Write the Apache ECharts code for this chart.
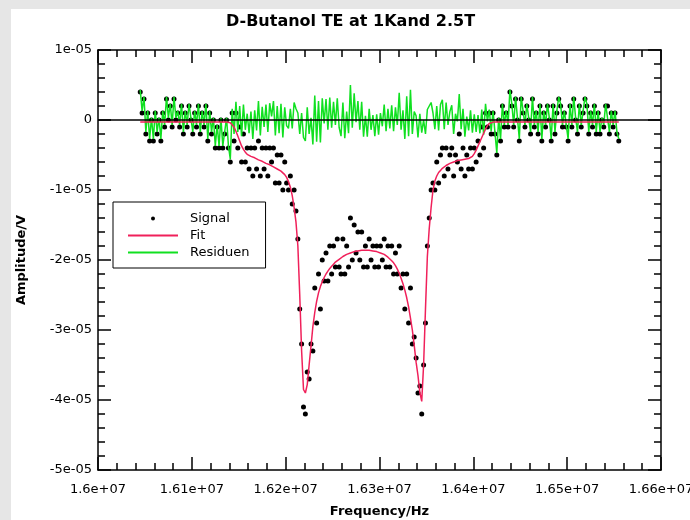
<!DOCTYPE html>
<html>
<head>
<meta charset="utf-8">
<title>D-Butanol TE at 1Kand 2.5T</title>
<script src="https://cdn.jsdelivr.net/npm/echarts@6/dist/echarts.min.js"></script>
<style>
  html, body { margin: 0; padding: 0; }
  #frame { position: relative; width: 690px; height: 520px; background: #e6e6e6; overflow: hidden; }
  #chart { position: absolute; left: 11px; top: 9px; width: 679px; height: 511px; background: #fff; }
</style>
</head>
<body>
<div id="frame"><div id="chart"></div></div>
<script>
// Frequency sweep: first sample and spacing (Hz)
const sweepStartHz = 16045000;
const sweepStepHz = 2000;

// Axis ranges and tick spacing
const freqRange = [16000000, 16600000];
const freqTickStep = 100000;
const ampRange = [-50, 10];      // in units of 1e-6 V
const ampTickStep = 10;

// Measured signal (1e-6 V), one value per sweep step
const signalMicroV = [
  4, 1, 3, -2, 1, -3, 0, -3, 1, -2,
  0, -3, 1, -1, 3, 0, 2, -1, 3, 0,
  1, -1, 2, -2, 1, -1, 2, 0, -2, 1,
  -1, 2, -2, 1, -1, 2, -3, 1, -2, 0,
  -4, -1, -4, 0, -4, -2, 0, -4, -6, 1,
  -3, 1, -4, -1, -6, -2, -6, -4, -7, -4,
  -8, -4, -7, -3, -8, -4, -7, -4, -8, -4,
  -6, -4, -9, -5, -9, -5, -10, -6, -9, -10,
  -8, -12, -10, -13, -17, -27, -32, -41, -42, -36,
  -37, -32, -33, -24, -29, -22, -27, -20, -23, -19,
  -23, -18, -22, -18, -21, -17, -21, -22, -17, -22,
  -18, -21, -14, -20, -15, -19, -16, -20, -16, -21,
  -18, -21, -17, -20, -18, -21, -18, -21, -18, -20,
  -17, -21, -18, -21, -18, -22, -19, -22, -18, -24,
  -22, -27, -22, -29, -24, -32, -31, -34, -39, -38,
  -42, -35, -29, -18, -14, -10, -9, -10, -6, -9,
  -5, -4, -8, -4, -7, -5, -4, -8, -5, -6,
  -2, -7, -4, -8, -5, -7, -4, -7, -4, -6,
  -3, -5, -1, -4, 1, -1, 1, -2, 1, -2,
  -5, 0, -3, 2, -1, 1, -1, 4, 2, -1,
  3, 0, -3, 3, 1, -1, 2, 0, -2, 3,
  -1, 1, -2, 2, -3, 1, -1, 2, 0, -3,
  2, -2, 1, 3, 2, -1, 1, -1, -3, 2,
  -1, 3, 0, -2, 2, -1, 1, 3, 2, -2,
  1, -1, 2, -2, 1, -2, 0, -1, 2, 2,
  -2, 1, -1, 1, -2, -3
];

// Fitted line shape (1e-6 V) at the same sweep steps
const fitMicroV = [
  -0.3, -0.3, -0.3, -0.3, -0.3, -0.3, -0.3, -0.3, -0.3, -0.3,
  -0.3, -0.3, -0.3, -0.3, -0.3, -0.3, -0.3, -0.3, -0.3, -0.3,
  -0.3, -0.3, -0.3, -0.3, -0.3, -0.3, -0.3, -0.3, -0.3, -0.3,
  -0.3, -0.3, -0.3, -0.3, -0.3, -0.3, -0.3, -0.3, -0.3, -0.3,
  -0.3, -0.3, -0.3, -0.3, -0.3, -0.3, -0.3, -0.3, -0.4, -0.6,
  -1.0, -1.6, -2.3, -3.0, -3.7, -4.2, -4.6, -4.9, -5.1, -5.2,
  -5.3, -5.4, -5.5, -5.7, -5.8, -5.9, -6.0, -6.2, -6.3, -6.4,
  -6.5, -6.7, -6.8, -7.0, -7.1, -7.3, -7.5, -7.8, -8.2, -8.8,
  -9.6, -10.8, -12.5, -14.6, -18.0, -25.0, -33.0, -38.5, -39.0, -37.8,
  -35.0, -32.3, -29.5, -27.5, -25.9, -24.7, -23.8, -23.1, -22.5, -22.0,
  -21.6, -21.2, -20.9, -20.6, -20.3, -20.1, -19.9, -19.7, -19.5, -19.4,
  -19.2, -19.1, -19.0, -18.9, -18.8, -18.7, -18.7, -18.6, -18.6, -18.6,
  -18.6, -18.6, -18.6, -18.6, -18.7, -18.7, -18.8, -18.9, -19.0, -19.1,
  -19.2, -19.4, -19.6, -19.8, -20.1, -20.4, -20.8, -21.3, -21.9, -22.6,
  -23.4, -24.3, -25.4, -26.7, -28.3, -30.0, -32.2, -34.6, -36.5, -38.9,
  -40.2, -35.0, -27.0, -19.5, -15.5, -12.5, -10.0, -8.7, -8.0, -7.5,
  -7.2, -6.9, -6.7, -6.5, -6.3, -6.2, -6.1, -6.0, -5.9, -5.8,
  -5.7, -5.7, -5.6, -5.6, -5.5, -5.5, -5.4, -5.2, -4.8, -4.3,
  -3.7, -3.1, -2.5, -1.9, -1.3, -0.8, -0.5, -0.4, -0.3, -0.3,
  -0.3, -0.3, -0.3, -0.3, -0.3, -0.3, -0.3, -0.3, -0.3, -0.3,
  -0.3, -0.3, -0.3, -0.3, -0.3, -0.3, -0.3, -0.3, -0.3, -0.3,
  -0.3, -0.3, -0.3, -0.3, -0.3, -0.3, -0.3, -0.3, -0.3, -0.3,
  -0.3, -0.3, -0.3, -0.3, -0.3, -0.3, -0.3, -0.3, -0.3, -0.3,
  -0.3, -0.3, -0.3, -0.3, -0.3, -0.3, -0.3, -0.3, -0.3, -0.3,
  -0.3, -0.3, -0.3, -0.3, -0.3, -0.3, -0.3, -0.3, -0.3, -0.3,
  -0.3, -0.3, -0.3, -0.3, -0.3, -0.3
];

// Residuals of the fit (1e-6 V)
const residualMicroV = [
  4.3, 1.3, 3.3, -1.7, 1.3, -2.7, 0.3, -2.7, 1.3, -1.7,
  0.3, -2.7, 1.3, -0.7, 3.3, 0.3, 2.3, -0.7, 3.3, 0.3,
  1.3, -0.7, 2.3, -1.7, 1.3, -0.7, 2.3, 0.3, -1.7, 1.3,
  -0.7, 2.3, -1.7, 1.3, -0.7, 2.3, -2.7, 1.3, -1.7, 0.3,
  -3.7, -0.7, -3.7, 0.3, -3.7, -1.7, 0.3, -3.7, -5.6, 1.6,
  -2.0, 2.6, -1.7, 2.0, -2.3, 2.2, -1.4, 0.9, -1.9, 1.2,
  -2.7, 1.4, -1.5, 2.7, -2.2, 1.9, -1.0, 2.2, -1.7, 2.4,
  0.5, 2.7, -2.2, 2.0, -1.9, 2.3, -2.5, 1.8, -0.8, -1.2,
  1.6, -1.2, 2.5, 1.6, 1.0, -2.0, 1.0, -2.5, -3.0, 1.8,
  -2.0, 0.3, -3.5, 3.5, -3.1, 2.7, -3.2, 3.1, -0.5, 3.0,
  -1.4, 3.2, -1.1, 2.6, -0.7, 3.1, -1.1, -2.3, 2.5, -2.6,
  1.2, -1.9, 5.0, -1.1, 3.8, -0.3, 2.7, -1.4, 2.6, -2.4,
  0.6, -2.4, 1.6, -1.4, 0.7, -2.3, 0.8, -2.1, 1.0, -0.9,
  2.2, -1.6, 1.6, -1.2, 2.1, -1.6, 1.8, -0.7, 3.9, -1.4,
  1.4, -2.7, 3.4, -2.3, 4.3, -2.0, 1.2, 0.6, -2.5, 0.9,
  -1.8, 0, -2.0, 1.5, 1.5, 2.5, 1.0, -1.3, 2.0, -1.5,
  2.2, 2.9, -1.3, 2.5, -0.7, 1.2, 2.1, -2.0, 0.9, -0.2,
  3.7, -1.3, 1.6, -2.4, 0.5, -1.5, 1.4, -1.8, 0.8, -1.7,
  0.7, -1.9, 1.5, -2.1, 2.3, -0.2, 1.5, -1.6, 1.3, -1.7,
  -4.7, 0.3, -2.7, 2.3, -0.7, 1.3, -0.7, 4.3, 2.3, -0.7,
  3.3, 0.3, -2.7, 3.3, 1.3, -0.7, 2.3, 0.3, -1.7, 3.3,
  -0.7, 1.3, -1.7, 2.3, -2.7, 1.3, -0.7, 2.3, 0.3, -2.7,
  2.3, -1.7, 1.3, 3.3, 2.3, -0.7, 1.3, -0.7, -2.7, 2.3,
  -0.7, 3.3, 0.3, -1.7, 2.3, -0.7, 1.3, 3.3, 2.3, -1.7,
  1.3, -0.7, 2.3, -1.7, 1.3, -1.7, 0.3, -0.7, 2.3, 2.3,
  -1.7, 1.3, -0.7, 1.3, -1.7, -2.7
];

const seriesNames = ['Signal', 'Fit', 'Residuen'];

const FONT = '"DejaVu Sans", Verdana, sans-serif';
const INK = '#000';
const FIT_RED = '#f0205a';
const RES_GREEN = '#10e020';

// pair each value with the frequency of its sweep step
const withFreq = values => values.map((v, i) => [sweepStartHz + i * sweepStepHz, v]);

const freqLabel = v => +(v / 1e7).toFixed(3) + 'e+07';
const ampLabel = v => (v === 0 ? '0' : (v / 10) + 'e-05');

// thin horizontal bar used as the legend swatch for the two lines
const LINE_ICON = 'path://M0 0H50V2H0Z';

function frameAxis(extra) {
  return Object.assign({
    type: 'value',
    axisLine: { show: true, onZero: false, lineStyle: { color: INK, width: 1.5 } },
    axisTick: { show: true, inside: true, length: 13, lineStyle: { color: INK, width: 1.5 } },
    minorTick: { show: true, splitNumber: 5, length: 7, lineStyle: { color: INK, width: 1.5 } },
    splitLine: { show: false },
    minorSplitLine: { show: false },
    axisLabel: { show: false }
  }, extra);
}

const labelText = { fontFamily: FONT, fontSize: 13, color: INK };
const nameText = { fontFamily: FONT, fontSize: 13, fontWeight: 'bold', color: INK };

const chart = echarts.init(document.getElementById('chart'), null, { renderer: 'canvas' });

chart.setOption({
  animation: false,
  backgroundColor: '#fff',
  title: {
    text: 'D-Butanol TE at 1Kand 2.5T',
    left: 'center',
    top: 0,
    textStyle: { fontFamily: FONT, fontSize: 16, fontWeight: 'bold', color: INK }
  },
  // fixed plot rectangle; labels and names are placed around it
  grid: { left: 87, top: 41, width: 563, height: 420, containLabel: false, outerBoundsMode: 'none' },
  legend: {
    orient: 'vertical',
    left: 102,
    top: 193,
    backgroundColor: '#fff',
    borderColor: INK,
    borderWidth: 1,
    borderRadius: 0,
    padding: [9, 16, 8, 15],
    itemWidth: 50,
    itemHeight: 4,
    itemGap: 2,
    textStyle: { fontFamily: FONT, fontSize: 13, color: INK, lineHeight: 15, padding: [0, 0, 0, 7] },
    data: [
      { name: seriesNames[0], icon: 'circle' },
      { name: seriesNames[1], icon: LINE_ICON },
      { name: seriesNames[2], icon: LINE_ICON }
    ]
  },
  xAxis: [
    frameAxis({
      position: 'bottom',
      min: freqRange[0], max: freqRange[1], interval: freqTickStep,
      name: 'Frequency/Hz', nameLocation: 'middle', nameGap: 35, nameTextStyle: nameText,
      axisLabel: Object.assign({ show: true, margin: 13, formatter: freqLabel }, labelText)
    }),
    frameAxis({
      position: 'top',
      min: freqRange[0], max: freqRange[1], interval: freqTickStep
    })
  ],
  yAxis: [
    frameAxis({
      position: 'left',
      min: ampRange[0], max: ampRange[1], interval: ampTickStep,
      name: 'Amplitude/V', nameLocation: 'middle', nameGap: 70, nameTextStyle: nameText,
      axisLabel: Object.assign({ show: true, margin: 6, formatter: ampLabel }, labelText)
    }),
    frameAxis({
      position: 'right',
      min: ampRange[0], max: ampRange[1], interval: ampTickStep
    })
  ],
  series: [
    {
      name: seriesNames[0],
      type: 'scatter',
      xAxisIndex: 0, yAxisIndex: 0,
      symbol: 'circle',
      symbolSize: 5,
      itemStyle: { color: '#000', opacity: 1 },
      data: withFreq(signalMicroV),
      z: 2,
      markLine: {
        silent: true,
        symbol: ['none', 'none'],
        label: { show: false },
        lineStyle: { color: INK, width: 1.5, type: 'solid' },
        data: [{ yAxis: 0 }]
      }
    },
    {
      name: seriesNames[1],
      type: 'line',
      xAxisIndex: 0, yAxisIndex: 0,
      symbol: 'none',
      itemStyle: { color: FIT_RED },
      lineStyle: { color: FIT_RED, width: 1.5 },
      data: withFreq(fitMicroV),
      z: 4
    },
    {
      name: seriesNames[2],
      type: 'line',
      xAxisIndex: 0, yAxisIndex: 0,
      symbol: 'none',
      itemStyle: { color: RES_GREEN },
      lineStyle: { color: RES_GREEN, width: 1.5 },
      data: withFreq(residualMicroV),
      z: 3
    }
  ]
});
</script>
</body>
</html>
